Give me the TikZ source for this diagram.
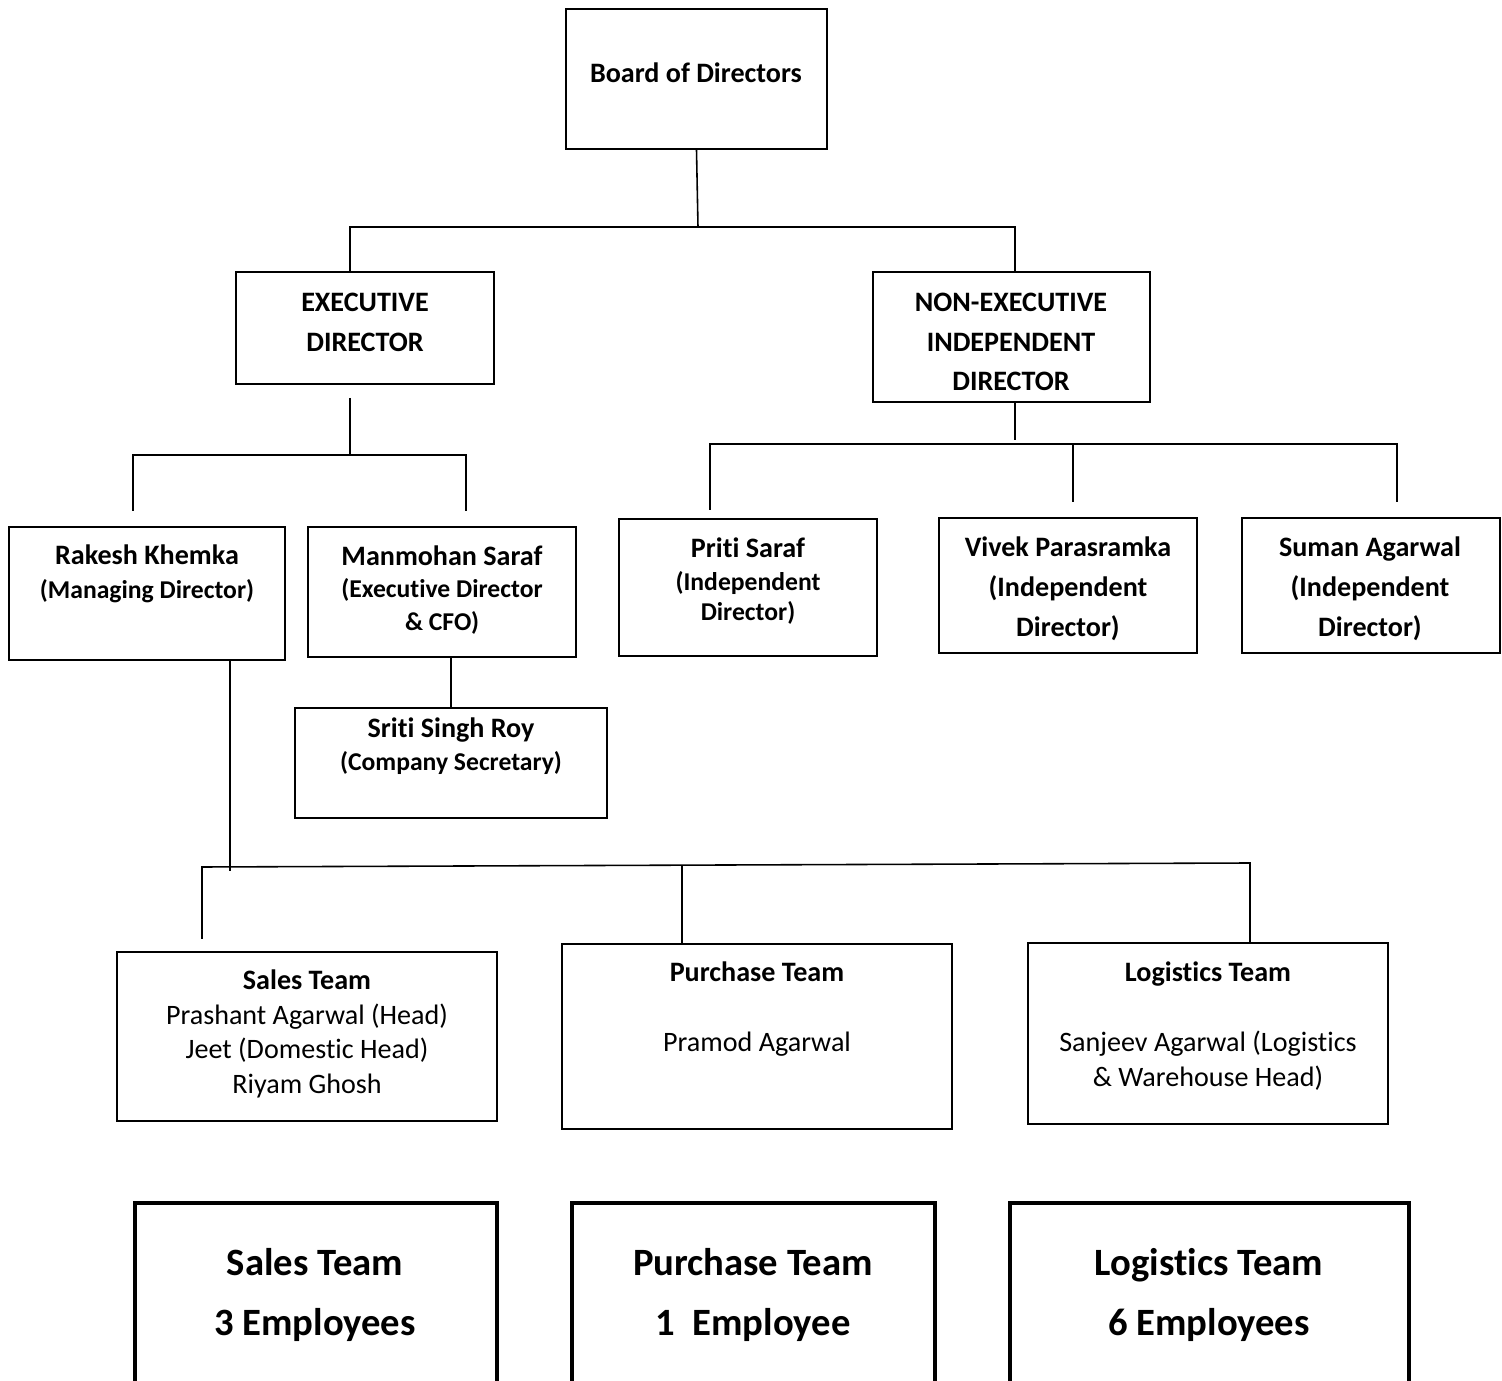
\documentclass[tikz,border=0pt]{standalone}
\usepackage{fontspec}
\setmainfont[Ligatures=NoCommon]{Carlito}
\usetikzlibrary{fit}

\begin{document}
\begin{tikzpicture}[x=0.02cm,y=-0.02cm,
    box/.style={draw,line width=1.1pt,inner sep=0pt},
    bigbox/.style={draw,line width=2.6pt,inner sep=0pt},
    link/.style={line width=0.9pt},
    hd/.style={font=\fontsize{16}{22.7}\selectfont\bfseries,align=center},
    nm/.style={font=\fontsize{16}{19.3}\selectfont\bfseries,align=center},
    body/.style={font=\fontsize{16}{19.8}\selectfont,align=center},
    big/.style={font=\fontsize{22}{34}\selectfont\bfseries,align=center}]
    \clip (0,0) rectangle (1502,1381);
    \fill[white] (0,0) rectangle (1502,1381);

    % boxes
    \node[box,fit={(566,9) (827,149)}] (board) {};
    \node[hd] at (696,73) {Board of Directors};
    \node[box,fit={(236,272) (494,384)}] (execdir) {};
    \node[hd] at (365,322) {EXECUTIVE\\DIRECTOR};
    \node[box,fit={(873,272) (1150,402)}] (nonexec) {};
    \node[hd] at (1011,342) {NON-EXECUTIVE\\INDEPENDENT\\DIRECTOR};

    \node[box,fit={(9,527) (285,660)}] (rakesh) {};
    \node[nm] at (147,574) {Rakesh Khemka\\{\fontsize{14.6}{19.3}\selectfont(Managing Director)}};
    \node[box,fit={(308,527) (576,657)}] (manmohan) {};
    \node[nm,font=\fontsize{16}{18.7}\selectfont\bfseries] at (442,590) {Manmohan Saraf\\{\fontsize{14.6}{18.7}\selectfont(Executive Director}\\{\fontsize{14.6}{18.7}\selectfont\& CFO)}};
    \node[box,fit={(295,708) (607,818)}] (sriti) {};
    \node[nm,font=\fontsize{16}{18.7}\selectfont\bfseries] at (451,746) {Sriti Singh Roy\\{\fontsize{14.6}{18.7}\selectfont(Company Secretary)}};

    \node[box,fit={(619,519) (877,656)}] (priti) {};
    \node[nm,font=\fontsize{14.6}{17}\selectfont\bfseries] at (748,581) {{\fontsize{16}{17}\selectfont Priti Saraf}\\[2.3pt](Independent\\Director)};
    \node[box,fit={(939,518) (1197,653)}] (vivek) {};
    \node[hd] at (1068,589) {Vivek Parasramka\\(Independent\\Director)};
    \node[box,fit={(1242,518) (1500,653)}] (suman) {};
    \node[hd] at (1370,589) {Suman Agarwal\\(Independent\\Director)};

    \node[box,fit={(117,952) (497,1121)}] (sales) {};
    \node[body] at (307,1034) {\textbf{Sales Team}\\Prashant Agarwal (Head)\\Jeet (Domestic Head)\\Riyam Ghosh};
    \node[box,fit={(562,944) (952,1129)}] (purchase) {};
    \node[body] at (757,1009) {\textbf{Purchase Team}\\[19.8pt]Pramod Agarwal};
    \node[box,fit={(1028,943) (1388,1124)}] (logistics) {};
    \node[body] at (1208,1026) {\textbf{Logistics Team}\\[19.8pt]Sanjeev Agarwal (Logistics\\\& Warehouse Head)};

    \node[bigbox,fit={(135,1203) (497,1420)}] (salesno) {};
    \node[big] at (315,1295) {Sales Team\\3 Employees};
    \node[bigbox,fit={(572,1203) (935,1420)}] (purchaseno) {};
    \node[big] at (753,1295) {Purchase Team\\1\ \ Employee};
    \node[bigbox,fit={(1010,1203) (1409,1420)}] (logisticsno) {};
    \node[big] at (1209,1295) {Logistics Team\\6 Employees};

    % connectors
    \coordinate (topbus) at (698,227);
    \coordinate (bl) at (350,227);
    \coordinate (br) at (1015,227);
    \draw[link] (board.south) -- (topbus);
    \draw[link] (bl |- execdir.north) -- (bl) -- (br) -- (br |- nonexec.north);

    \coordinate (e1) at (350,398);
    \coordinate (e2) at (350,455);
    \coordinate (el) at (133,455);
    \coordinate (er) at (466,455);
    \draw[link] (e1) -- (e2);
    \draw[link] (el) ++(0,56) -- (el) -- (er) -- ++(0,56);
    \draw[link] (sriti.north |- manmohan.south) -- (sriti.north);

    \coordinate (n1) at (1015,440);
    \coordinate (nl) at (710,444);
    \coordinate (nm) at (1073,444);
    \coordinate (nr) at (1397,444);
    \draw[link] (n1 |- nonexec.south) -- (n1);
    \draw[link] (nl) ++(0,66) -- (nl) -- (nr) -- ++(0,58);
    \draw[link] (nm) -- ++(0,58);

    \coordinate (r1) at (230,871);
    \coordinate (tl) at (202,867);
    \coordinate (tm) at (682,866);
    \coordinate (tr) at (1250,863);
    \draw[link] (r1 |- rakesh.south) -- (r1);
    \draw[link] (tl) ++(0,72) -- (tl) -- (tr) -- (tr |- logistics.north);
    \draw[link] (tm) -- (tm |- purchase.north);
\end{tikzpicture}
\end{document}
